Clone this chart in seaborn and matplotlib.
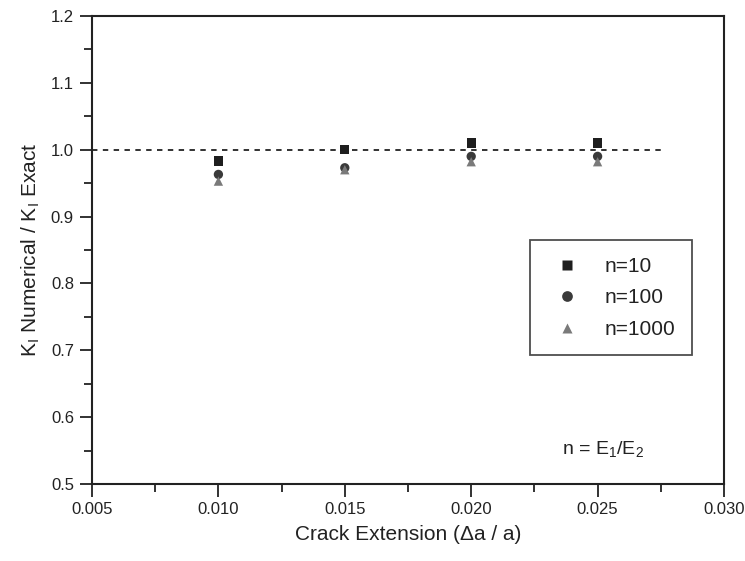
import matplotlib
matplotlib.use("Agg")
import matplotlib.pyplot as plt
import seaborn as sns
import pandas as pd
from matplotlib.ticker import MultipleLocator

crack_ext = [0.010, 0.015, 0.020, 0.025]
n10 = [0.983, 1.00, 1.01, 1.01]
n100 = [0.963, 0.973, 0.99, 0.99]
n1000 = [0.953, 0.970, 0.982, 0.982]
series_labels = ["n=10", "n=100", "n=1000"]
ref_x = [0.005, 0.02755]
ref_y = [1.0, 1.0]

rows = []
for lab, vals in zip(series_labels, [n10, n100, n1000]):
    for x, v in zip(crack_ext, vals):
        rows.append({"x": x, "y": v, "series": lab})
df = pd.DataFrame(rows)

sns.set_theme(style="ticks")
plt.rcParams['font.family'] = ['Liberation Sans', 'DejaVu Sans']

fig = plt.figure(figsize=(7.45, 5.61), dpi=100)
ax = fig.add_axes([0.1235, 0.1373, 0.8483, 0.8342])

ax.plot(ref_x, ref_y, linestyle=(0, (3, 3)), color="#222222", linewidth=1.3, zorder=1)

palette = {"n=10": "#1e1e1e", "n=100": "#3a3a3a", "n=1000": "#7a7a7a"}
markers = {"n=10": "s", "n=100": "o", "n=1000": "^"}
sns.scatterplot(data=df, x="x", y="y", hue="series", style="series",
                palette=palette, markers=markers, s=45, edgecolor="none",
                ax=ax, zorder=3, legend=True)

ax.set_xlim(0.005, 0.030)
ax.set_ylim(0.5, 1.2)
ax.set_xticks([0.005, 0.010, 0.015, 0.020, 0.025, 0.030])
ax.set_xticklabels(["0.005", "0.010", "0.015", "0.020", "0.025", "0.030"])
ax.set_yticks([0.5, 0.6, 0.7, 0.8, 0.9, 1.0, 1.1, 1.2])
ax.set_yticklabels(["0.5", "0.6", "0.7", "0.8", "0.9", "1.0", "1.1", "1.2"])
ax.xaxis.set_minor_locator(MultipleLocator(0.0025))
ax.yaxis.set_minor_locator(MultipleLocator(0.05))
ax.tick_params(which="major", direction="out", length=9, width=1.3, labelsize=12, colors="#222222", pad=4)
ax.tick_params(which="minor", direction="out", length=6, width=1.3, colors="#222222")
for sp in ax.spines.values():
    sp.set_linewidth(1.5)
    sp.set_color("#222222")

ax.set_xlabel("Crack Extension (\u0394a / a)", fontsize=15, color="#222222", labelpad=6)
ax.set_ylabel("K$_\\mathregular{I}$ Numerical / K$_\\mathregular{I}$ Exact", fontsize=15, color="#222222", labelpad=6)

leg = ax.legend(loc="upper left", bbox_to_anchor=(0.693, 0.521), frameon=True,
                fontsize=15, fancybox=False, edgecolor="#222222", borderpad=0.8,
                labelspacing=0.6, handletextpad=0.8, borderaxespad=0.0, markerscale=1.15)
leg.get_frame().set_linewidth(1.3)
for t in leg.get_texts():
    t.set_color("#222222")

ax.text(0.744, 0.073, "n = E$_\\mathregular{1}$/E$_\\mathregular{2}$", transform=ax.transAxes,
        fontsize=14, color="#222222", va="center")

fig.savefig("out.png", dpi=100)
